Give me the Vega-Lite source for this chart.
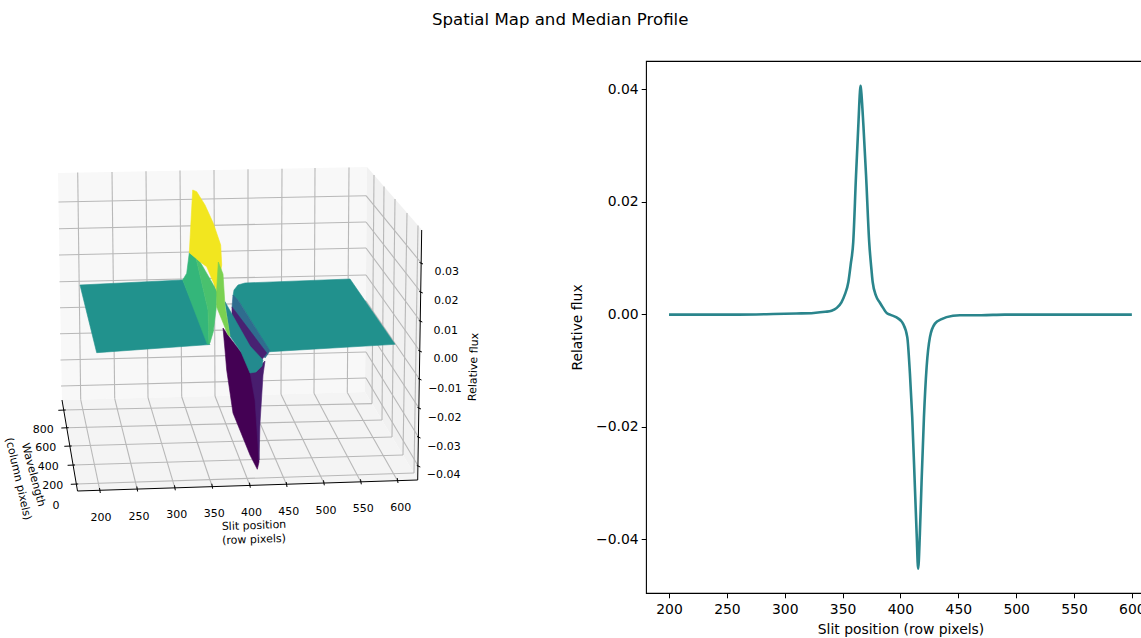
{"$schema":"https://vega.github.io/schema/vega-lite/v6.json","padding":{"left":0,"top":11,"right":0,"bottom":0},"background":"white","title":{"text":"Spatial Map and Median Profile","font":"DejaVu Sans","fontSize":16.6,"fontWeight":"normal","color":"#000","anchor":"start","frame":"group","dx":432,"offset":32},"config":{"view":{"stroke":null},"font":"DejaVu Sans"},"spacing":70,"align":"none","datasets":{"panes":[{"p":"back","i":0,"u":58,"v":173},{"p":"back","i":1,"u":367,"v":167},{"p":"back","i":2,"u":365,"v":392},{"p":"back","i":3,"u":62,"v":400},{"p":"side","i":0,"u":367,"v":167},{"p":"side","i":1,"u":422,"v":230},{"p":"side","i":2,"u":418,"v":480},{"p":"side","i":3,"u":365,"v":392},{"p":"floor","i":0,"u":62,"v":400},{"p":"floor","i":1,"u":365,"v":392},{"p":"floor","i":2,"u":418,"v":480},{"p":"floor","i":3,"u":77.5,"v":491}],"segs":[{"u":77.7,"v":172.6,"u2":80.7,"v2":399.5,"k":"grid"},{"u":112,"v":172,"u2":114.7,"v2":398.6,"k":"grid"},{"u":146,"v":171.3,"u2":148,"v2":397.7,"k":"grid"},{"u":180,"v":170.6,"u2":181.7,"v2":396.8,"k":"grid"},{"u":214,"v":170,"u2":215,"v2":396,"k":"grid"},{"u":248,"v":169.3,"u2":248,"v2":395.1,"k":"grid"},{"u":282,"v":168.7,"u2":281,"v2":394.2,"k":"grid"},{"u":315,"v":168,"u2":314,"v2":393.3,"k":"grid"},{"u":349,"v":167.4,"u2":347.3,"v2":392.5,"k":"grid"},{"u":61,"v":386,"u2":366,"v2":378,"k":"grid"},{"u":60.5,"v":360,"u2":366,"v2":352,"k":"grid"},{"u":60,"v":333.7,"u2":366,"v2":327,"k":"grid"},{"u":60,"v":307.7,"u2":366,"v2":301,"k":"grid"},{"u":59.5,"v":281.7,"u2":366,"v2":275,"k":"grid"},{"u":59,"v":255,"u2":366,"v2":248,"k":"grid"},{"u":59,"v":228.7,"u2":366,"v2":222,"k":"grid"},{"u":58.5,"v":202,"u2":366,"v2":195.7,"k":"grid"},{"u":366,"v":378,"u2":418.2,"v2":466,"k":"grid"},{"u":366,"v":352,"u2":418.4,"v2":437,"k":"grid"},{"u":366,"v":327,"u2":418.9,"v2":408,"k":"grid"},{"u":366,"v":301,"u2":419.4,"v2":379,"k":"grid"},{"u":366,"v":275,"u2":419.8,"v2":351,"k":"grid"},{"u":366,"v":248,"u2":420.2,"v2":321,"k":"grid"},{"u":366,"v":222,"u2":420.7,"v2":292,"k":"grid"},{"u":366,"v":195.7,"u2":421.2,"v2":263,"k":"grid"},{"u":374,"v":175,"u2":372,"v2":403.6,"k":"grid"},{"u":384,"v":186.5,"u2":382,"v2":420,"k":"grid"},{"u":395,"v":199,"u2":392,"v2":437,"k":"grid"},{"u":407,"v":213,"u2":403,"v2":455,"k":"grid"},{"u":418,"v":225.5,"u2":414,"v2":473,"k":"grid"},{"u":80.7,"v":399.5,"u2":100,"v2":491,"k":"grid"},{"u":114.7,"v":398.6,"u2":137.3,"v2":489.5,"k":"grid"},{"u":148,"v":397.7,"u2":175,"v2":488.3,"k":"grid"},{"u":181.7,"v":396.8,"u2":212.3,"v2":486.7,"k":"grid"},{"u":215,"v":396,"u2":250,"v2":485.7,"k":"grid"},{"u":248,"v":395.1,"u2":286.7,"v2":485,"k":"grid"},{"u":281,"v":394.2,"u2":324,"v2":483.3,"k":"grid"},{"u":314,"v":393.3,"u2":361,"v2":482.3,"k":"grid"},{"u":347.3,"v":392.5,"u2":397.7,"v2":481,"k":"grid"},{"u":63.7,"v":410,"u2":372,"v2":403.6,"k":"grid"},{"u":66.7,"v":427.7,"u2":382,"v2":420,"k":"grid"},{"u":69.7,"v":446,"u2":392,"v2":437,"k":"grid"},{"u":73,"v":465,"u2":403,"v2":455,"k":"grid"},{"u":76.2,"v":484,"u2":414,"v2":473,"k":"grid"},{"u":62,"v":400,"u2":77.5,"v2":491,"k":"axis"},{"u":77.5,"v":491,"u2":417.7,"v2":480,"k":"axis"},{"u":417.7,"v":480,"u2":421.7,"v2":230,"k":"axis"},{"u":58.3,"v":410.3,"u2":65.7,"v2":410,"k":"axis"},{"u":61.3,"v":428,"u2":68.7,"v2":427.7,"k":"axis"},{"u":64.3,"v":446.3,"u2":71.7,"v2":446,"k":"axis"},{"u":67.6,"v":465.3,"u2":75,"v2":465,"k":"axis"},{"u":70.8,"v":484.3,"u2":78.2,"v2":484,"k":"axis"},{"u":99.5,"v":488,"u2":100.3,"v2":493,"k":"axis"},{"u":136.8,"v":486.5,"u2":137.6,"v2":491.5,"k":"axis"},{"u":174.5,"v":485.3,"u2":175.3,"v2":490.3,"k":"axis"},{"u":211.8,"v":483.7,"u2":212.6,"v2":488.7,"k":"axis"},{"u":249.5,"v":482.7,"u2":250.3,"v2":487.7,"k":"axis"},{"u":286.2,"v":482,"u2":287,"v2":487,"k":"axis"},{"u":323.5,"v":480.3,"u2":324.3,"v2":485.3,"k":"axis"},{"u":360.5,"v":479.3,"u2":361.3,"v2":484.3,"k":"axis"},{"u":397.2,"v":478,"u2":398,"v2":483,"k":"axis"},{"u":419.5,"v":262.5,"u2":423,"v2":264,"k":"axis"},{"u":419.3,"v":291.5,"u2":422.8,"v2":293,"k":"axis"},{"u":418.8,"v":320.5,"u2":422.3,"v2":322,"k":"axis"},{"u":418.4,"v":350.5,"u2":421.9,"v2":352,"k":"axis"},{"u":418,"v":378.5,"u2":421.5,"v2":380,"k":"axis"},{"u":417.5,"v":407.5,"u2":421,"v2":409,"k":"axis"},{"u":417,"v":436.5,"u2":420.5,"v2":438,"k":"axis"},{"u":416.8,"v":465.5,"u2":420.3,"v2":467,"k":"axis"}],"surface":[{"p":"flatL","i":0,"u":80,"v":285,"f":0.0005},{"p":"flatL","i":1,"u":182.7,"v":280,"f":0.0005},{"p":"flatL","i":2,"u":208.3,"v":342.7,"f":0.0005},{"p":"flatL","i":3,"u":210,"v":344.5,"f":0.0005},{"p":"flatL","i":4,"u":96.7,"v":352.7,"f":0.0005},{"p":"flatR","i":0,"u":233,"v":296,"f":0},{"p":"flatR","i":1,"u":234,"v":290,"f":0},{"p":"flatR","i":2,"u":238,"v":285,"f":0},{"p":"flatR","i":3,"u":245,"v":283,"f":0},{"p":"flatR","i":4,"u":350,"v":279,"f":0},{"p":"flatR","i":5,"u":395,"v":344.3,"f":0},{"p":"flatR","i":6,"u":270,"v":351.7,"f":0},{"p":"flatR","i":7,"u":238,"v":300,"f":0},{"p":"deep","i":0,"u":223,"v":328,"f":-0.04},{"p":"deep","i":1,"u":230,"v":338,"f":-0.04},{"p":"deep","i":2,"u":241,"v":352,"f":-0.04},{"p":"deep","i":3,"u":250,"v":362,"f":-0.04},{"p":"deep","i":4,"u":258,"v":378,"f":-0.04},{"p":"deep","i":5,"u":259,"v":462,"f":-0.04},{"p":"deep","i":6,"u":257.3,"v":469.3,"f":-0.04},{"p":"deep","i":7,"u":250,"v":455,"f":-0.04},{"p":"deep","i":8,"u":233,"v":413,"f":-0.04},{"p":"deep","i":9,"u":226.7,"v":370,"f":-0.04},{"p":"deep","i":10,"u":225,"v":350,"f":-0.04},{"p":"wedge","i":0,"u":250,"v":372,"f":-0.034},{"p":"wedge","i":1,"u":256,"v":370,"f":-0.034},{"p":"wedge","i":2,"u":265,"v":361,"f":-0.034},{"p":"wedge","i":3,"u":263,"v":375,"f":-0.034},{"p":"wedge","i":4,"u":260,"v":423,"f":-0.034},{"p":"wedge","i":5,"u":259,"v":460,"f":-0.034},{"p":"wedge","i":6,"u":255,"v":400,"f":-0.034},{"p":"blue","i":0,"u":233,"v":295,"f":-0.012},{"p":"blue","i":1,"u":238,"v":300,"f":-0.012},{"p":"blue","i":2,"u":270,"v":351,"f":-0.012},{"p":"blue","i":3,"u":265,"v":358,"f":-0.012},{"p":"blue","i":4,"u":232,"v":307,"f":-0.012},{"p":"purple","i":0,"u":232,"v":307,"f":-0.033},{"p":"purple","i":1,"u":266.7,"v":353,"f":-0.033},{"p":"purple","i":2,"u":261.7,"v":360,"f":-0.033},{"p":"purple","i":3,"u":250,"v":347,"f":-0.033},{"p":"purple","i":4,"u":240,"v":330,"f":-0.033},{"p":"purple","i":5,"u":232,"v":316,"f":-0.033},{"p":"tealS","i":0,"u":225,"v":301.7,"f":-0.002},{"p":"tealS","i":1,"u":233,"v":316,"f":-0.002},{"p":"tealS","i":2,"u":250,"v":346,"f":-0.002},{"p":"tealS","i":3,"u":263,"v":360,"f":-0.002},{"p":"tealS","i":4,"u":262,"v":366,"f":-0.002},{"p":"tealS","i":5,"u":256,"v":372,"f":-0.002},{"p":"tealS","i":6,"u":250,"v":373,"f":-0.002},{"p":"tealS","i":7,"u":241,"v":352,"f":-0.002},{"p":"tealS","i":8,"u":230,"v":336,"f":-0.002},{"p":"G1","i":0,"u":182.7,"v":280,"f":0.013},{"p":"G1","i":1,"u":186.7,"v":273.3,"f":0.013},{"p":"G1","i":2,"u":189.3,"v":252.7,"f":0.013},{"p":"G1","i":3,"u":196,"v":258,"f":0.013},{"p":"G1","i":4,"u":208,"v":310,"f":0.013},{"p":"G1","i":5,"u":209,"v":344,"f":0.013},{"p":"G1","i":6,"u":207.3,"v":344.3,"f":0.013},{"p":"G2","i":0,"u":196,"v":258,"f":0.017},{"p":"G2","i":1,"u":200,"v":261.7,"f":0.017},{"p":"G2","i":2,"u":217.3,"v":291.7,"f":0.017},{"p":"G2","i":3,"u":216,"v":310,"f":0.017},{"p":"G2","i":4,"u":213.3,"v":331.7,"f":0.017},{"p":"G2","i":5,"u":210,"v":342.7,"f":0.017},{"p":"G2","i":6,"u":209,"v":344,"f":0.017},{"p":"G2","i":7,"u":208,"v":310,"f":0.017},{"p":"Y","i":0,"u":189.3,"v":252.7,"f":0.0385},{"p":"Y","i":1,"u":192.7,"v":190,"f":0.0385},{"p":"Y","i":2,"u":196.7,"v":191.7,"f":0.0385},{"p":"Y","i":3,"u":205,"v":205,"f":0.0385},{"p":"Y","i":4,"u":213.3,"v":223.3,"f":0.0385},{"p":"Y","i":5,"u":220.7,"v":245,"f":0.0385},{"p":"Y","i":6,"u":221.7,"v":265,"f":0.0385},{"p":"Y","i":7,"u":217.3,"v":291.7,"f":0.0385},{"p":"Y","i":8,"u":206.7,"v":266.7,"f":0.0385},{"p":"Y","i":9,"u":200,"v":261.7,"f":0.0385},{"p":"LG","i":0,"u":218.3,"v":262,"f":0.024},{"p":"LG","i":1,"u":223,"v":274,"f":0.024},{"p":"LG","i":2,"u":225,"v":306,"f":0.024},{"p":"LG","i":3,"u":230,"v":336,"f":0.024},{"p":"LG","i":4,"u":228,"v":335,"f":0.024},{"p":"LG","i":5,"u":216.7,"v":307,"f":0.024},{"p":"LG","i":6,"u":216.7,"v":290,"f":0.024}],"labels":[{"t":"200","u":101,"v":517.7,"a":0},{"t":"250","u":139,"v":516.7,"a":0},{"t":"300","u":176.7,"v":515.3,"a":0},{"t":"350","u":214.3,"v":514,"a":0},{"t":"400","u":251.5,"v":513,"a":0},{"t":"450","u":288.7,"v":511.7,"a":0},{"t":"500","u":326,"v":510.7,"a":0},{"t":"550","u":363.3,"v":509,"a":0},{"t":"600","u":400.7,"v":507.7,"a":0},{"t":"800","u":43.3,"v":430,"a":0},{"t":"600","u":45.7,"v":448.3,"a":0},{"t":"400","u":48.3,"v":466.7,"a":0},{"t":"200","u":52.7,"v":485.7,"a":0},{"t":"0","u":56,"v":506,"a":0},{"t":"0.03","u":446.7,"v":271.7,"a":0},{"t":"0.02","u":446.3,"v":301,"a":0},{"t":"0.01","u":445.7,"v":330.7,"a":0},{"t":"0.00","u":445.7,"v":359.3,"a":0},{"t":"−0.01","u":445,"v":389,"a":0},{"t":"−0.02","u":444.7,"v":418.3,"a":0},{"t":"−0.03","u":444,"v":447,"a":0},{"t":"−0.04","u":443.7,"v":475.3,"a":0},{"t":"Slit position","u":254,"v":526,"a":-2},{"t":"(row pixels)","u":254,"v":540,"a":-2},{"t":"Relative flux","u":474,"v":367,"a":-88},{"t":"Wavelength","u":33,"v":475,"a":75},{"t":"(column pixels)","u":18,"v":479,"a":77}],"profile":[{"s":200,"f":-0.0001},{"s":230,"f":-0.0001},{"s":260,"f":-0.0001},{"s":290,"f":0},{"s":310,"f":0.0001},{"s":325,"f":0.0002},{"s":335,"f":0.0004},{"s":340.5,"f":0.0006},{"s":345,"f":0.0011},{"s":349,"f":0.0021},{"s":352,"f":0.0035},{"s":355,"f":0.0057},{"s":357,"f":0.0088},{"s":359.2,"f":0.0128},{"s":361.6,"f":0.0246},{"s":363.6,"f":0.0335},{"s":365,"f":0.0395},{"s":365.5,"f":0.0406},{"s":366,"f":0.0398},{"s":368,"f":0.0335},{"s":370.3,"f":0.0246},{"s":373,"f":0.0128},{"s":375,"f":0.0078},{"s":376,"f":0.0057},{"s":379,"f":0.0032},{"s":382,"f":0.0021},{"s":385,"f":0.0011},{"s":388,"f":0.0002},{"s":391,"f":-0.0001},{"s":396.7,"f":-0.0006},{"s":400,"f":-0.0011},{"s":402.2,"f":-0.0017},{"s":405.9,"f":-0.0041},{"s":408.2,"f":-0.0106},{"s":410.2,"f":-0.0184},{"s":412.5,"f":-0.0308},{"s":414,"f":-0.039},{"s":415.3,"f":-0.0453},{"s":416.8,"f":-0.039},{"s":418.3,"f":-0.0296},{"s":420.3,"f":-0.0184},{"s":422.6,"f":-0.0095},{"s":425.5,"f":-0.0041},{"s":429.8,"f":-0.0017},{"s":435.6,"f":-0.0009},{"s":445.4,"f":-0.0003},{"s":451.4,"f":-0.0002},{"s":470,"f":-0.0002},{"s":490,"f":-0.0001},{"s":520,"f":-0.0001},{"s":560,"f":-0.0001},{"s":600,"f":-0.0001}]},"hconcat":[{"width":500,"height":532,"resolve":{"scale":{"fill":"independent","stroke":"independent"}},"layer":[{"data":{"name":"panes"},"mark":{"type":"line","interpolate":"linear-closed","strokeWidth":0},"encoding":{"x":{"field":"u","type":"quantitative","scale":{"domain":[0,500],"nice":false,"zero":false},"axis":null},"y":{"field":"v","type":"quantitative","scale":{"domain":[593,61],"nice":false,"zero":false},"axis":null},"order":{"field":"i","type":"quantitative"},"detail":{"field":"p"},"fill":{"field":"p","type":"nominal","scale":{"domain":["back","side","floor"],"range":["#f8f8f8","#f1f1f1","#f4f4f4"]},"legend":null}}},{"data":{"name":"segs"},"mark":{"type":"rule"},"encoding":{"x":{"field":"u","type":"quantitative"},"y":{"field":"v","type":"quantitative"},"x2":{"field":"u2"},"y2":{"field":"v2"},"stroke":{"field":"k","type":"nominal","scale":{"domain":["grid","axis"],"range":["#b8b8b8","#000000"]},"legend":null},"strokeWidth":{"field":"k","type":"nominal","scale":{"domain":["grid","axis"],"range":[1.1,1]},"legend":null}}},{"data":{"name":"surface"},"mark":{"type":"line","interpolate":"linear-closed","strokeWidth":0.6},"encoding":{"x":{"field":"u","type":"quantitative"},"y":{"field":"v","type":"quantitative"},"order":{"field":"i","type":"quantitative"},"detail":{"field":"p"},"fill":{"field":"f","type":"quantitative","scale":{"scheme":"viridis","domain":[-0.04,0.04]},"legend":null},"stroke":{"field":"f","type":"quantitative","scale":{"scheme":"viridis","domain":[-0.04,0.04]},"legend":null}}},{"data":{"name":"labels"},"mark":{"type":"text","font":"DejaVu Sans","fontSize":11,"color":"#000","align":"center","baseline":"middle"},"encoding":{"x":{"field":"u","type":"quantitative"},"y":{"field":"v","type":"quantitative"},"text":{"field":"t"},"angle":{"field":"a","type":"quantitative","scale":null}}}]},{"width":509,"height":532,"view":{"stroke":"#000","strokeWidth":1.1},"data":{"name":"profile"},"mark":{"type":"line","color":"#2a858c","strokeWidth":2.6,"clip":true,"interpolate":"monotone"},"encoding":{"x":{"field":"s","type":"quantitative","title":"Slit position (row pixels)","scale":{"domain":[180.1,620],"nice":false,"zero":false},"axis":{"values":[200,250,300,350,400,450,500,550,600],"grid":false,"labelFont":"DejaVu Sans","labelFontSize":13.9,"labelColor":"#000","titleFont":"DejaVu Sans","titleFontSize":13.9,"titleFontWeight":"normal","titleColor":"#000","tickColor":"#000","tickSize":4.8,"domain":false,"labelPadding":5,"titlePadding":6}},"y":{"field":"f","type":"quantitative","title":"Relative flux","scale":{"domain":[-0.0496,0.045],"nice":false,"zero":false},"axis":{"values":[-0.04,-0.02,0,0.02,0.04],"format":".2f","grid":false,"labelFont":"DejaVu Sans","labelFontSize":13.9,"labelColor":"#000","titleFont":"DejaVu Sans","titleFontSize":13.9,"titleFontWeight":"normal","titleColor":"#000","tickColor":"#000","tickSize":4.8,"domain":false,"labelPadding":3,"titlePadding":11}}}}]}
